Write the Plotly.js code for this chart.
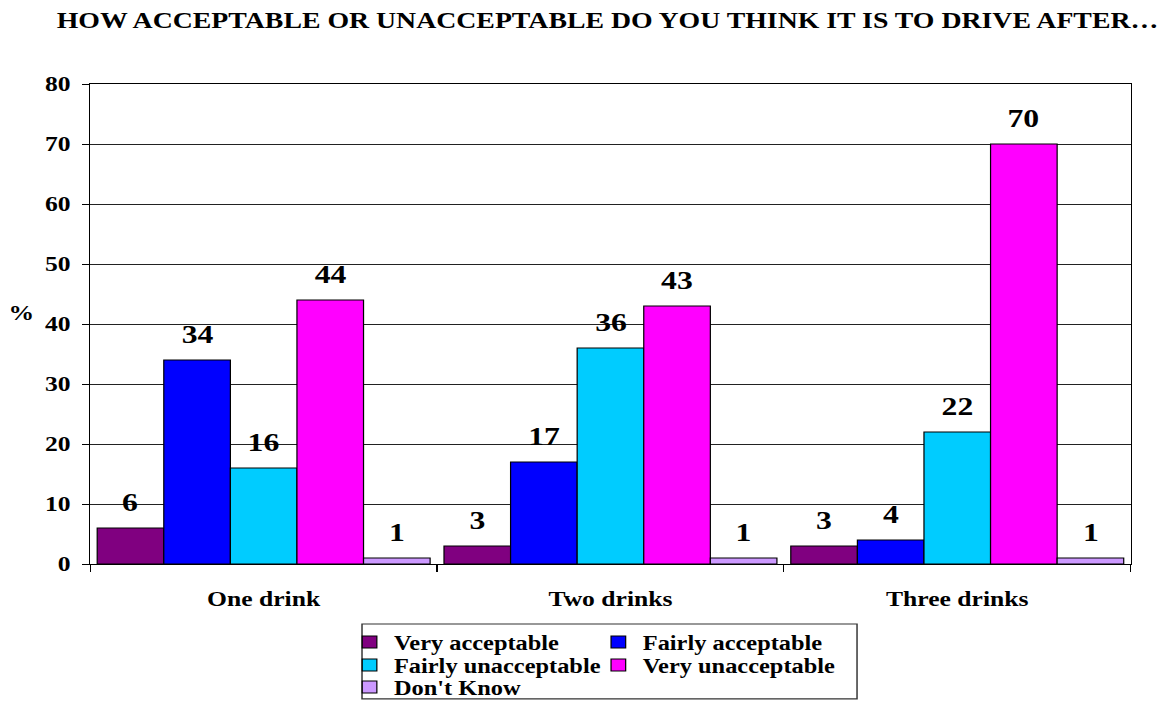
<!DOCTYPE html>
<html>
<head>
<meta charset="utf-8">
<script src="https://cdn.plot.ly/plotly-3.0.1.min.js"></script>
<style>
  html, body { margin: 0; padding: 0; background: #fff; overflow: hidden; }
  #wrap { width: 1166px; height: 702px; overflow: hidden; }
  #chart { width: 956px; height: 702px; transform: scaleX(1.2197); transform-origin: 0 0; }
  #chart svg text { font-family: "Liberation Serif", "Times New Roman", serif !important; }
</style>
</head>
<body>
<div id="wrap"><div id="chart"></div></div>
<script>
// ---- data ----
var categories = ["One drink", "Two drinks", "Three drinks"];
var seriesNames = ["Very acceptable", "Fairly acceptable", "Fairly unacceptable", "Very unacceptable", "Don't Know"];
var veryAcceptable = [6, 3, 3];
var fairlyAcceptable = [34, 17, 4];
var fairlyUnacceptable = [16, 36, 22];
var veryUnacceptable = [44, 43, 70];
var dontKnow = [1, 1, 1];
var yTicks = [0, 10, 20, 30, 40, 50, 60, 70, 80];
var chartTitle = "HOW ACCEPTABLE OR UNACCEPTABLE DO YOU THINK IT IS TO DRIVE AFTER…";

// ---- style ----
var seriesValues = [veryAcceptable, fairlyAcceptable, fairlyUnacceptable, veryUnacceptable, dontKnow];
var colors = ["#800080", "#0000FF", "#00CCFF", "#FF00FF", "#CC99FF"];
var legendOf = ["legend", "legend", "legend2", "legend2", "legend3"];
var FONT = "Liberation Serif, Times New Roman, serif";
var bargap = 0.04;

var traces = seriesValues.map(function (vals, i) {
  return {
    type: "bar",
    name: seriesNames[i],
    x: categories,
    y: vals,
    marker: { color: colors[i], line: { color: "#000", width: 1 } },
    legend: legendOf[i],
    hoverinfo: "skip"
  };
});

// value labels above bars, positioned in data coordinates (category index + bar offset)
var nS = seriesValues.length;
var bw = (1 - bargap) / nS;
var annotations = [];
seriesValues.forEach(function (vals, i) {
  vals.forEach(function (v, c) {
    annotations.push({
      x: c + (i - (nS - 1) / 2) * bw,
      y: v,
      xref: "x", yref: "y",
      text: "<b>" + v + "</b>",
      showarrow: false,
      yanchor: "bottom",
      yshift: 9,
      font: { family: FONT, size: 26, color: "#000" }
    });
  });
});
annotations.push({
  text: "<b>%</b>", showarrow: false, xref: "paper", yref: "paper",
  x: -0.0668, y: 0.523, xanchor: "center", yanchor: "middle",
  font: { family: FONT, size: 21, color: "#000" }
});

function legendCfg(yc) {
  return {
    orientation: "h",
    xref: "container", yref: "container",
    x: 0.296, xanchor: "left",
    y: yc, yanchor: "middle",
    entrywidth: 159, entrywidthmode: "pixels",
    bgcolor: "rgba(0,0,0,0)", borderwidth: 0,
    font: { family: FONT, size: 20, color: "#000", weight: "bold" },
    itemclick: false, itemdoubleclick: false
  };
}

var layout = {
  width: 956, height: 702,
  margin: { l: 74, r: 29, t: 84, b: 138, pad: 0 },
  paper_bgcolor: "#fff", plot_bgcolor: "#fff",
  font: { family: FONT, color: "#000" },
  title: {
    text: "<b>" + chartTitle + "</b>",
    xref: "container", yref: "container",
    x: 0.521, xanchor: "center",
    y: 0.9715, yanchor: "middle",
    font: { family: FONT, size: 22.8, color: "#000" }
  },
  barmode: "group", bargap: bargap, bargroupgap: 0,
  xaxis: {
    type: "category",
    showline: true, linecolor: "#000", linewidth: 1, mirror: true,
    ticks: "outside", tickson: "boundaries", ticklen: 7, tickcolor: "#000",
    ticklabelstandoff: 16,
    tickfont: { family: FONT, size: 21, color: "#000", weight: "bold" },
    showgrid: false
  },
  yaxis: {
    range: [0, 80], tickvals: yTicks, ticktext: yTicks.map(String),
    showline: true, linecolor: "#000", linewidth: 1, mirror: true,
    ticks: "outside", ticklen: 6, tickcolor: "#000",
    ticklabelstandoff: 5,
    showgrid: true, gridcolor: "#222", gridwidth: 1,
    zeroline: false,
    tickfont: { family: FONT, size: 21, color: "#000", weight: "bold" }
  },
  legend: legendCfg(1 - 642 / 702),
  legend2: legendCfg(1 - 665 / 702),
  legend3: legendCfg(1 - 687 / 702),
  showlegend: true,
  annotations: annotations,
  shapes: [{
    type: "rect", xref: "paper", yref: "paper",
    x0: 0.2612, x1: 0.737, y0: -0.125, y1: -0.281,
    line: { color: "#333", width: 1.2 }, fillcolor: "rgba(0,0,0,0)"
  }]
};

Plotly.newPlot("chart", traces, layout, { staticPlot: true, displayModeBar: false });
</script>
</body>
</html>
